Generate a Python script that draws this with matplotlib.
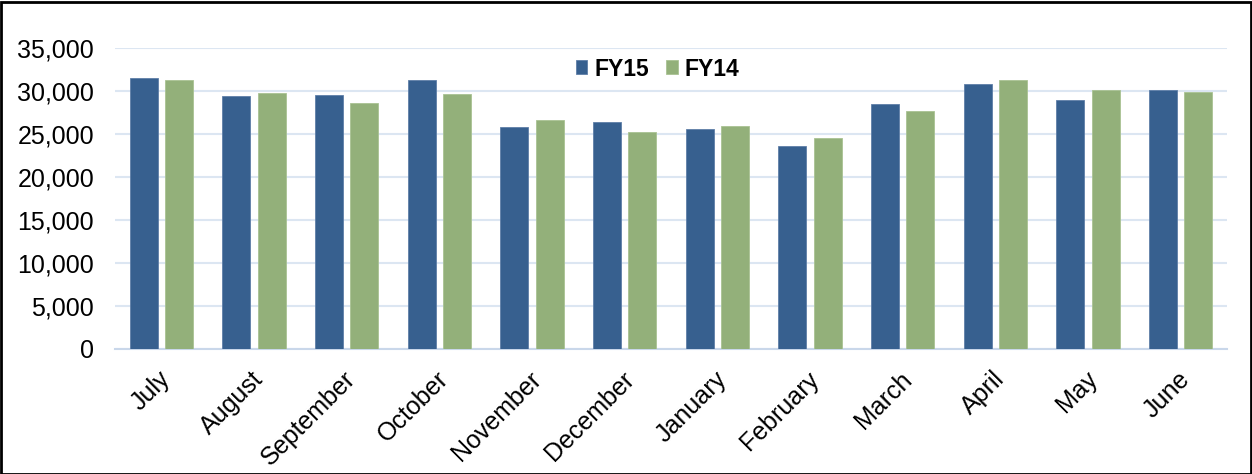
import matplotlib
matplotlib.use("Agg")
import matplotlib.pyplot as plt
import matplotlib.transforms as mtransforms
import numpy as np
from matplotlib.patches import Rectangle

months = ["July", "August", "September", "October", "November", "December",
          "January", "February", "March", "April", "May", "June"]
fy15 = [31540, 29380, 29570, 31240, 25780, 26400, 25620, 23570, 28490, 30850, 28910, 30150]
fy14 = [31280, 29770, 28570, 29600, 26670, 25230, 25890, 24530, 27670, 31280, 30080, 29920]
yticks = [0, 5000, 10000, 15000, 20000, 25000, 30000, 35000]

plt.rcParams['font.family'] = ['Liberation Sans', 'DejaVu Sans']

W, H = 1252, 474
fig = plt.figure(figsize=(W / 100, H / 100), dpi=100)
ax = fig.add_axes([115 / W, 1 - 349 / H, 1112 / W, 301 / H])

x = np.arange(len(months))
bw = 0.30
off = 0.19
c15 = "#37608F"
c14 = "#93B07A"
ax.bar(x - off, fy15, bw, color=c15, edgecolor="#5F7FA8", linewidth=0.6, label="FY15", zorder=3)
ax.bar(x + off, fy14, bw, color=c14, edgecolor="#A9C293", linewidth=0.6, label="FY14", zorder=3)

ax.set_xlim(-0.5, 11.5)
ax.set_ylim(0, 35000)
ax.set_yticks(yticks)
ax.set_yticklabels([f"{v:,}" for v in yticks], fontsize=18)
ax.set_xticks(x)
ax.set_xticklabels(months, rotation=45, ha="right", va="top", rotation_mode="anchor", fontsize=18)
ax.tick_params(axis="y", length=0, pad=15)
ax.tick_params(axis="x", length=0, pad=13)
shift = mtransforms.ScaledTranslation(-3 / 100, 0, fig.dpi_scale_trans)
for lab in ax.get_xticklabels():
    lab.set_transform(lab.get_transform() + shift)
ax.grid(axis="y", color="#DCE6F2", linewidth=1.5, zorder=0)
for s in ["top", "right", "left"]:
    ax.spines[s].set_visible(False)
ax.spines["bottom"].set_color("#C9D7EA")
ax.spines["bottom"].set_linewidth(1.5)

leg = ax.legend(loc="center", bbox_to_anchor=(0.488, 1 - 21 / 301), ncol=2, frameon=False,
                prop={"weight": "bold", "size": 16.5}, handlelength=0.5, handleheight=0.55,
                handletextpad=0.3, columnspacing=0.75)

fig.patches.append(Rectangle((0.5 / W, 0.5 / H), 1 - 2 / W, 1 - 2 / H, transform=fig.transFigure,
                             fill=False, edgecolor="black", linewidth=2))

fig.savefig("out.png", dpi=100)
